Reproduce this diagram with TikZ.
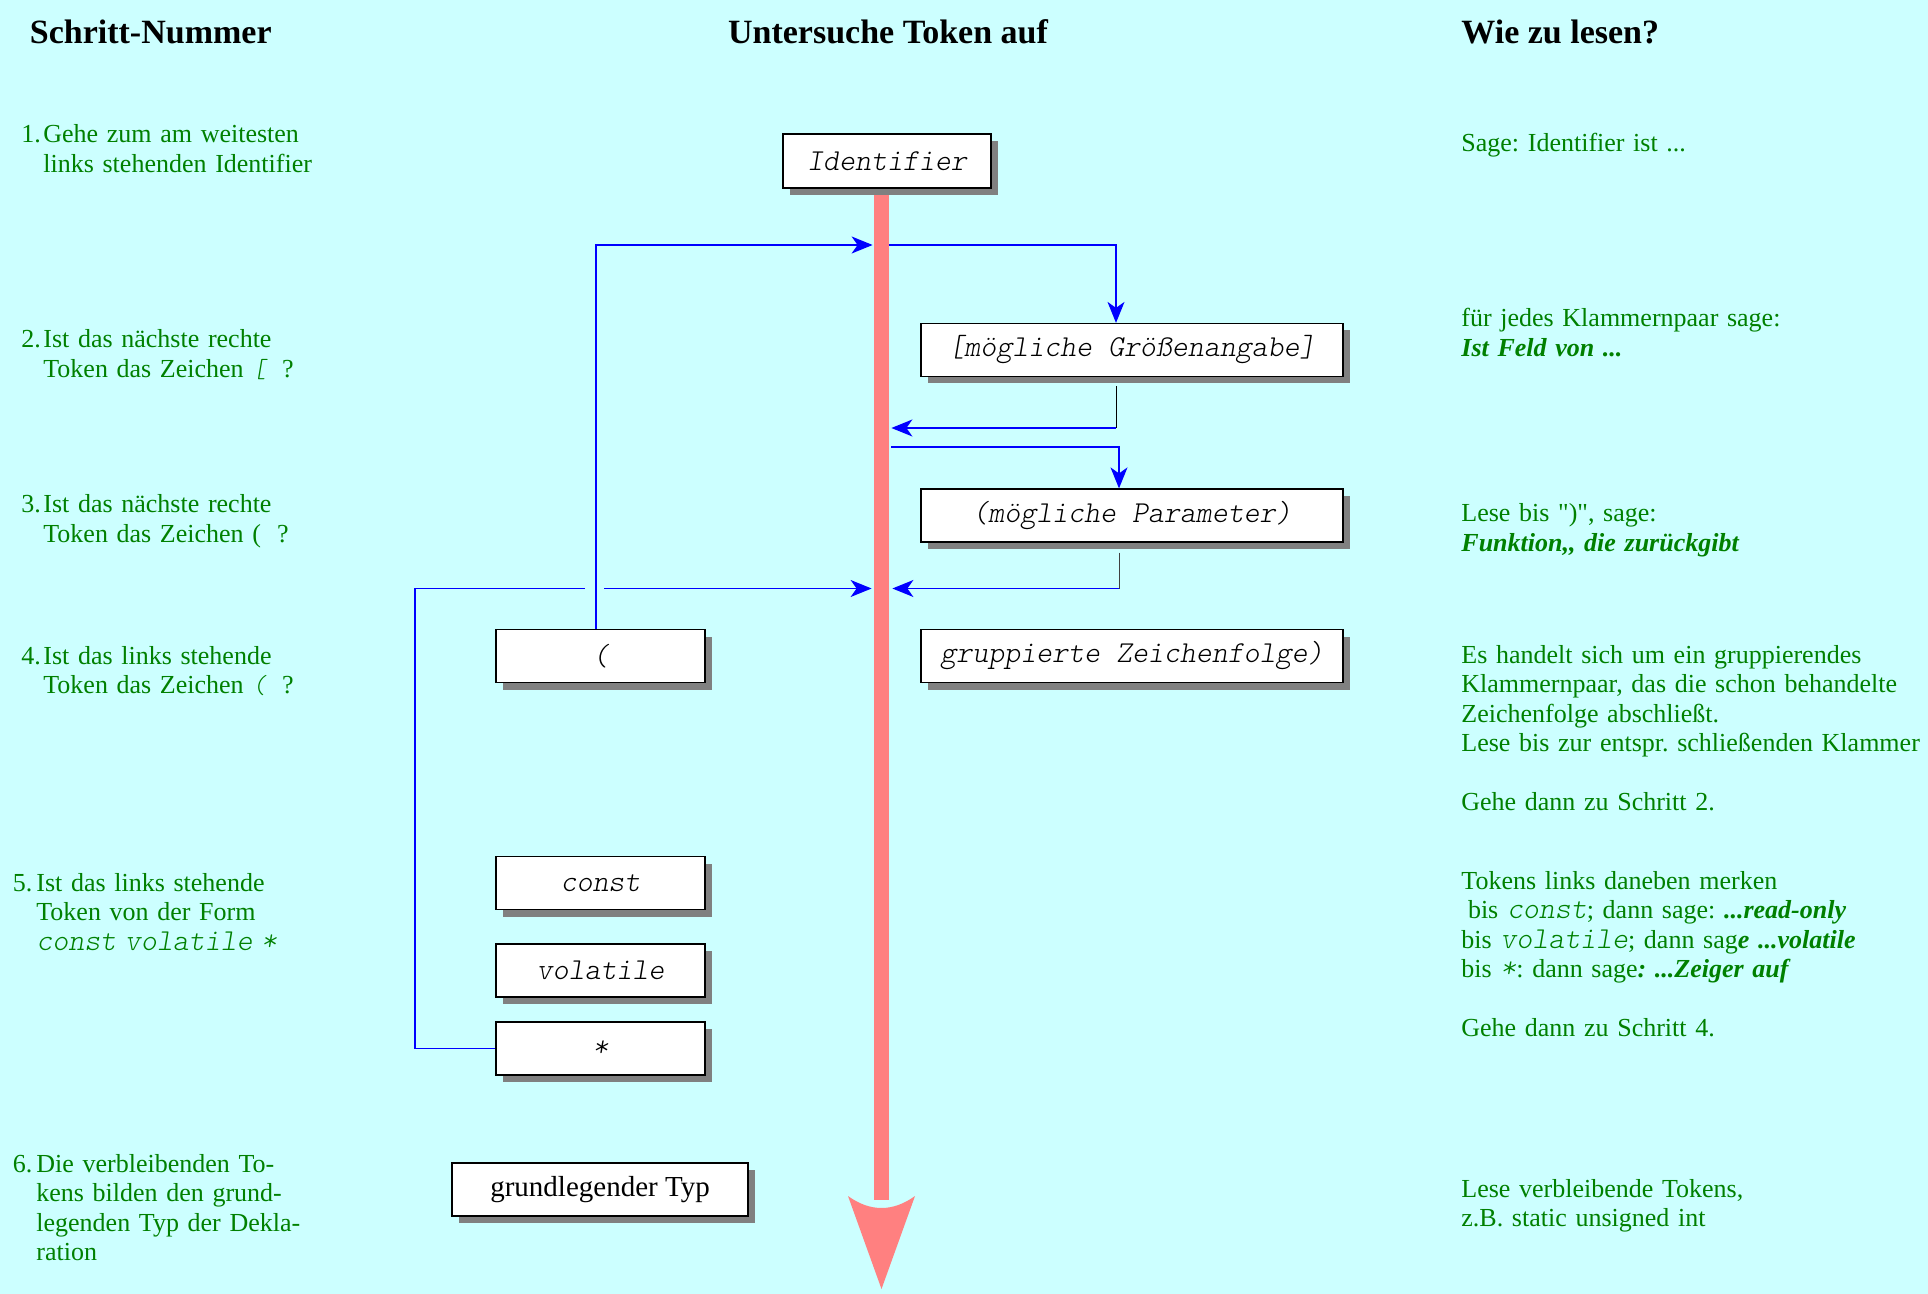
\documentclass[tikz,border=0pt]{standalone}
\usepackage{fontspec}
\setmainfont{Liberation Serif}[Ligatures=TeXOff]
\newfontfamily\monoobl{lmmonolt10-oblique}[Extension=.otf]
\usetikzlibrary{shadows,arrows.meta,calc}
\definecolor{bgc}{RGB}{204,255,255}
\definecolor{grn}{RGB}{0,128,0}
\definecolor{barred}{RGB}{255,128,128}
\definecolor{shgray}{RGB}{128,128,128}
\newcommand{\monoit}[1]{{\monoobl #1}}
\newcommand{\monosz}[1]{{\fontsize{15.2}{14.75}\selectfont\monoobl #1}}
\newcommand{\bfit}[1]{{\bfseries\itshape #1}}
\frenchspacing
\begin{document}
\begin{tikzpicture}[x=0.5pt,y=-0.5pt,
  tokbox/.style={draw=black, line width=0.6pt, fill=white, inner sep=0pt,
    minimum height=26.5pt,
    drop shadow={shadow xshift=3.5pt, shadow yshift=-3.5pt, fill=shgray, opacity=1},
    font=\fontsize{15.2}{16}\selectfont\monoobl},
  hdr/.style={inner sep=0pt, font=\fontsize{17}{20}\selectfont\bfseries},
  gtext/.style={anchor=base west, inner sep=0pt, text=grn, align=left,
    font=\fontsize{13}{14.75}\selectfont},
  gblock/.style={gtext, text width=#1},
  blueline/.style={draw=blue, line width=0.7pt},
  bluearr/.style={blueline, -{Stealth[length=10.5pt,width=8.5pt,inset=3pt]}},
  stemline/.style={line width=0.5pt}
]
\fill[bgc] (0,0) rectangle (1928,1294);
\useasboundingbox (0,0) rectangle (1928,1294);

% headers
\node[hdr, anchor=base west] (h1) at (29.5,44) {Schritt-Nummer};
\node[hdr, anchor=base] (h2) at (888,44) {Untersuche Token auf};
\node[hdr, anchor=base west] (h3) at (1461,44) {Wie zu lesen?};

% red bar and arrowhead
\node[fill=barred, inner sep=0pt, minimum width=7.5pt, minimum height=506pt] (bar) at (881.5,694) {};
\fill[barred] (848,1196) .. controls (870,1212) and (893,1212) .. (915,1196) -- (881.5,1289) -- cycle;

% boxes
\node[tokbox, minimum width=104pt, minimum height=27pt] (ident) at (887,161) {Identifier};
\node[tokbox, minimum width=211pt] (gross) at (1132,350) {[mögliche Größenangabe]};
\node[tokbox, minimum width=211pt] (param) at (1132,515.5) {(mögliche Parameter)};
\node[tokbox, minimum width=211pt] (grup) at (1132,656) {gruppierte Zeichenfolge)};
\node[tokbox, minimum width=104.5pt] (paren) at (600.5,656) {(};
\node[tokbox, minimum width=104.5pt] (const) at (600.5,883) {const};
\node[tokbox, minimum width=104.5pt] (vol) at (600.5,970.5) {volatile};
\node[tokbox, minimum width=104.5pt] (star) at (600.5,1048.5) {*};
\node[tokbox, minimum width=148pt, font=\fontsize{14.5}{16}\selectfont\rmfamily\upshape] (typ) at (600,1189.5) {grundlegender Typ};

% helper coordinates
\coordinate (r1) at (0,245);
\coordinate (r2) at (0,428);
\coordinate (r3) at (0,447);
\coordinate (r4) at (0,588.5);
\coordinate (loopL) at (415,588.5);
\coordinate (gapL) at (585,588.5);
\coordinate (gapR) at (604,588.5);
\coordinate (pn) at ([xshift=-2.25pt]paren.north);
\coordinate (gtop) at ([xshift=-8pt]gross.north);
\coordinate (gbot) at ([xshift=-8pt,yshift=-4.5pt]gross.south);
\coordinate (ptop) at ([xshift=-6.5pt]param.north);
\coordinate (pbot) at ([xshift=-6.5pt,yshift=-5pt]param.south);

% connectors
\draw[blueline] (star.west) -| (loopL) -- (gapL);
\draw[bluearr, shorten >=1pt] (gapR) -- (bar.west |- r4);
\draw[bluearr, shorten >=0.5pt] (pn) |- (bar.west |- r1);
\draw[bluearr] (bar.east |- r1) -| (gtop);
\draw[stemline, black] (gbot) -- (gbot |- r2);
\draw[bluearr, shorten >=1pt] (gbot |- r2) -- (bar.east |- r2);
\draw[bluearr] ([xshift=1pt]bar.east |- r3) -| (ptop);
\draw[stemline, gray!50!black] (pbot) -- (pbot |- r4);
\draw[bluearr, shorten >=1.5pt] (pbot |- r4) -- (bar.east |- r4);

% left column
\node[gtext] (n1) at (21,143) {1.};
\node[gblock=200pt] (s1) at (43,143) {Gehe zum am weitesten\\links stehenden Identifier};
\node[gtext] (n2) at (21,348) {2.};
\node[gblock=200pt] (s2) at (43,348) {Ist das nächste rechte\\Token das Zeichen \monoit{[}\hspace{8pt}?};
\node[gtext] (n3) at (21,513) {3.};
\node[gblock=200pt] (s3) at (43,513) {Ist das nächste rechte\\Token das Zeichen (\hspace{8pt}?};
\node[gtext] (n4) at (21,664) {4.};
\node[gblock=200pt] (s4) at (43,664) {Ist das links stehende\\Token das Zeichen \monoit{(}\hspace{8pt}?};
\node[gtext] (n5) at (12.5,891) {5.};
\node[gblock=200pt] (s5) at (36,891) {Ist das links stehende\\Token von der Form\\\monosz{const volatile *}};
\node[gtext] (n6) at (12.5,1172) {6.};
\node[gblock=200pt] (s6) at (36,1172) {Die verbleibenden To-\\kens bilden den grund-\\legenden Typ der Dekla-\\ration};

% right column
\node[gblock=250pt] (w1) at (1461,152) {Sage: Identifier ist ...};
\node[gblock=250pt] (w2) at (1461,327) {für jedes Klammernpaar sage:\\\bfit{Ist Feld von ...}};
\node[gblock=250pt] (w3) at (1461,522) {Lese bis ")", sage:\\\bfit{Funktion,, die zurückgibt}};
\node[gblock=250pt] (w4) at (1461,663) {Es handelt sich um ein gruppierendes\\Klammernpaar, das die schon behandelte\\Zeichenfolge abschließt.\\Lese bis zur entspr. schließenden Klammer\\[14.75pt]Gehe dann zu Schritt 2.};
\node[gblock=250pt] (w5) at (1461,889) {Tokens links daneben merken\\\hspace*{3.3pt}bis \monosz{const}; dann sage: \bfit{...read-only}\\bis \monosz{volatile}; dann sag\bfit{e ...volatile}\\bis \monosz{*}: dann sage\bfit{: ...Zeiger auf}\\[14.75pt]Gehe dann zu Schritt 4.};
\node[gblock=250pt] (w6) at (1461,1197) {Lese verbleibende Tokens,\\z.B. static unsigned int};
\end{tikzpicture}
\end{document}
